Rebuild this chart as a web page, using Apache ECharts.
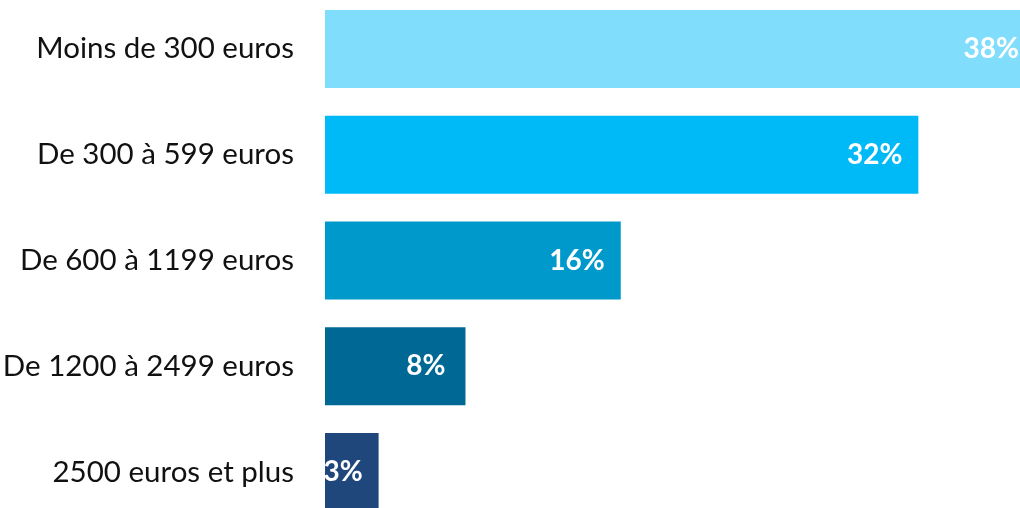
<!DOCTYPE html>
<html><head><meta charset="utf-8">
<script src="https://cdn.jsdelivr.net/npm/echarts@6/dist/echarts.min.js"></script>
<style>html,body{margin:0;padding:0;background:#fff}#c{width:1020px;height:508px}</style>
</head><body><div id="c"></div>
<script>
const categories = ["Moins de 300 euros", "De 300 à 599 euros", "De 600 à 1199 euros", "De 1200 à 2499 euros", "2500 euros et plus"];
const values = [37.6, 32.1, 16.0, 7.6, 2.9];
const colors = ["#80DDFC", "#00B9F7", "#0099CC", "#006894", "#1F477B"];
const labelDistances = [1, 16, 16, 20, 16];

const chart = echarts.init(document.getElementById('c'), null, {renderer: 'canvas'});
chart.setOption({
  animation: false,
  grid: {left: 325, right: 0, top: -4, height: 529, containLabel: false, outerBoundsMode: 'none'},
  xAxis: {type: 'value', min: 0, max: 37.6, show: false},
  yAxis: {
    type: 'category', data: categories, inverse: true,
    axisLine: {show: false}, axisTick: {show: false},
    axisLabel: {color: '#111', fontFamily: 'Lato', fontSize: 29.5, margin: 31}
  },
  series: [{
    type: 'bar', barWidth: 78,
    data: values.map((v, i) => ({
      value: v,
      itemStyle: {color: colors[i]},
      label: {distance: labelDistances[i]}
    })),
    label: {
      show: true, position: 'insideRight', color: '#fff',
      fontFamily: 'Lato', fontWeight: 'bold', fontSize: 28,
      formatter: p => Math.round(p.value) + '%'
    }
  }]
});
</script></body></html>
